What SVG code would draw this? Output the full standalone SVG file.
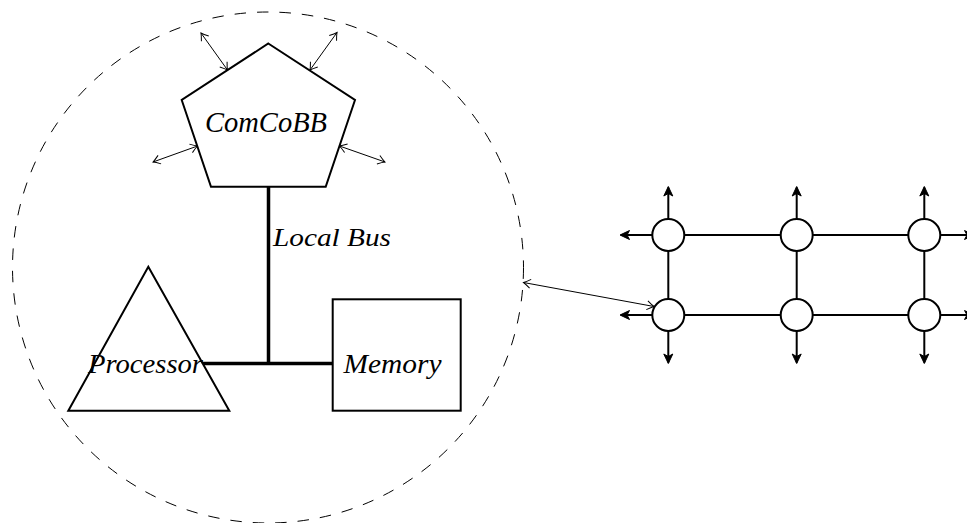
<svg xmlns="http://www.w3.org/2000/svg" width="967" height="523" viewBox="0 0 967 523">
  <style>
    .lbl { font-family: "Liberation Serif", "Times New Roman", serif; font-style: italic; fill: #000; }
    .shape { fill: #fff; stroke: #000; stroke-width: 2; stroke-linejoin: miter; }
    .thin { fill: none; stroke: #000; stroke-width: 1; marker-start: url(#open); marker-end: url(#open); }
    .bus { fill: none; stroke: #000; stroke-width: 3.5; }
    .link { fill: none; stroke: #000; stroke-width: 2; }
    .out { fill: none; stroke: #000; stroke-width: 2; marker-end: url(#solid); }
    .node { fill: #fff; stroke: #000; stroke-width: 2; }
  </style>
  <defs>
    <marker id="open" markerUnits="userSpaceOnUse" viewBox="-10 -6 12 12" refX="0" refY="0" markerWidth="12" markerHeight="12" orient="auto-start-reverse">
      <path d="M -7 -4.5 Q -2.5 -1.2 0 0 Q -2.5 1.2 -7 4.5" fill="none" stroke="#000" stroke-width="1"/>
    </marker>
    <marker id="solid" markerUnits="userSpaceOnUse" viewBox="-11 -7 14 14" refX="0" refY="0" markerWidth="14" markerHeight="14" orient="auto">
      <path d="M 1 0 L -8.5 -4.5 L -6 0 L -8.5 4.5 Z" fill="#000" stroke="#000" stroke-width="1" stroke-linejoin="miter"/>
    </marker>
  </defs>

  <rect width="967" height="523" fill="#fff"/>

  <!-- dashed boundary of the processing element -->
  <circle id="boundary" cx="268" cy="267.5" r="255.5" fill="none" stroke="#000" stroke-width="1" stroke-dasharray="11.5 11"/>

  <g id="connectors">
    <!-- local bus -->
    <line class="bus" x1="268.5" y1="186.5" x2="268.5" y2="363.5"/>
    <line class="bus" x1="203" y1="363.5" x2="333" y2="363.5"/>
    <!-- external links of the ComCoBB -->
    <line class="thin" x1="201" y1="33" x2="227.5" y2="70"/>
    <line class="thin" x1="310" y1="70" x2="337" y2="32.5"/>
    <line class="thin" x1="153" y1="162" x2="197.5" y2="146"/>
    <line class="thin" x1="339.5" y1="146" x2="385" y2="162"/>
    <!-- attachment to the network -->
    <line class="thin" x1="523.5" y1="282.5" x2="654" y2="306.5"/>
    <!-- mesh links -->
    <line class="link" x1="684" y1="235" x2="781" y2="235"/>
    <line class="link" x1="812.5" y1="235" x2="908.5" y2="235"/>
    <line class="link" x1="684" y1="315" x2="781" y2="315"/>
    <line class="link" x1="812.5" y1="315" x2="908.5" y2="315"/>
    <line class="link" x1="668.3" y1="251" x2="668.3" y2="299"/>
    <line class="link" x1="796.7" y1="251" x2="796.7" y2="299"/>
    <line class="link" x1="924.3" y1="251" x2="924.3" y2="299"/>
    <!-- outgoing mesh edges -->
    <line class="out" x1="668.3" y1="219" x2="668.3" y2="187.5"/>
    <line class="out" x1="796.7" y1="219" x2="796.7" y2="187.5"/>
    <line class="out" x1="924.3" y1="219" x2="924.3" y2="187.5"/>
    <line class="out" x1="668.3" y1="331" x2="668.3" y2="362.5"/>
    <line class="out" x1="796.7" y1="331" x2="796.7" y2="362.5"/>
    <line class="out" x1="924.3" y1="331" x2="924.3" y2="362.5"/>
    <line class="out" x1="652.3" y1="235" x2="621" y2="235"/>
    <line class="out" x1="652.3" y1="315" x2="621" y2="315"/>
    <line class="out" x1="940.3" y1="235" x2="973" y2="235"/>
    <line class="out" x1="940.3" y1="315" x2="973" y2="315"/>
  </g>

  <g id="comcobb">
    <polygon class="shape" points="268.3,43.5 355,100 325.7,186.7 211,186.7 181.7,100"/>
    <text class="lbl" x="205" y="131.7" font-size="29.5" textLength="122" lengthAdjust="spacingAndGlyphs">ComCoBB</text>
  </g>

  <g id="localbus-label">
    <text class="lbl" x="273" y="246" font-size="25.5" textLength="118" lengthAdjust="spacingAndGlyphs">Local Bus</text>
  </g>

  <g id="processor">
    <polygon class="shape" points="148.3,266.7 229.3,410.7 68.3,410.7" style="fill:none"/>
    <text class="lbl" x="88" y="373" font-size="28" textLength="115" lengthAdjust="spacingAndGlyphs">Processor</text>
  </g>

  <g id="memory">
    <rect class="shape" x="332.7" y="299.3" width="128" height="111.4"/>
    <text class="lbl" x="343.5" y="373" font-size="28" textLength="98" lengthAdjust="spacingAndGlyphs">Memory</text>
  </g>

  <g id="n11"><circle class="node" cx="668.3" cy="235" r="16"/></g>
  <g id="n12"><circle class="node" cx="796.7" cy="235" r="16"/></g>
  <g id="n13"><circle class="node" cx="924.3" cy="235" r="16"/></g>
  <g id="n21"><circle class="node" cx="668.3" cy="315" r="16"/></g>
  <g id="n22"><circle class="node" cx="796.7" cy="315" r="16"/></g>
  <g id="n23"><circle class="node" cx="924.3" cy="315" r="16"/></g>
</svg>
